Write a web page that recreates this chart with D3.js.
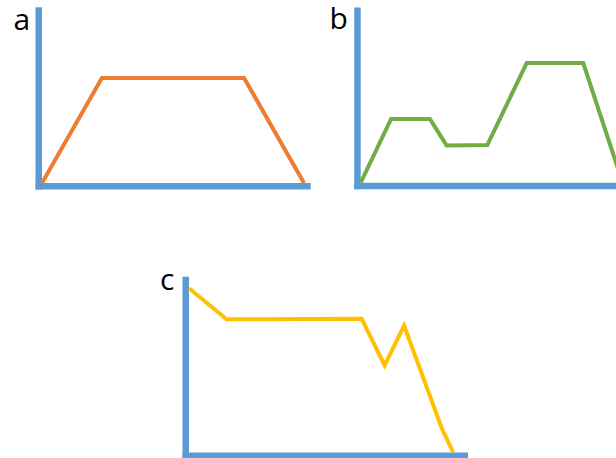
<!DOCTYPE html>
<html>
<head>
<meta charset="utf-8">
<script src="https://cdn.jsdelivr.net/npm/d3@7"></script>
<style>
  html, body { margin: 0; padding: 0; background: #fff; overflow: hidden; }
  svg { display: block; }
</style>
</head>
<body>
<svg id="chart"></svg>
<script>
// panel a
const aX = [0, 22.3, 75.2, 97.5];
const aY = [0, 59.8, 59.8, 0];
// panel b
const bX = [0, 11.5, 26.2, 32.5, 47.9, 62.8, 84.2, 99.1];
const bY = [0, 36.4, 36.4, 21.3, 21.5, 68.3, 68.3, 0];
// panel c
const cX = [0, 13.5, 61.9, 70.1, 77.1, 90.6, 94.7];
const cY = [93.4, 75.8, 76.1, 49.5, 72.2, 13.8, 0];

const labels = ["a", "b", "c"];

const W = 616, H = 458;
const axisColor = "#5B9BD5";
const axisWidth = 6.5;

const svg = d3.select("#chart")
    .attr("width", W)
    .attr("height", H);

// layout: inner corner of the axes, extents, label spot
const panels = [
    {xs: aX, ys: aY, color: "#ED7D31", x0: 42, x1: 310.7, y0: 183, y1: 7.3, lx: 13.5, ly: 30},
    {xs: bX, ys: bY, color: "#70AD47", x0: 360.7, x1: 625, y0: 182.7, y1: 7.5, lx: 329.5, ly: 28.8},
    {xs: cX, ys: cY, color: "#FFC000", x0: 189, x1: 468, y0: 452.5, y1: 276.7, lx: 160, ly: 290}
];

panels.forEach((p, i) => {
    const x = d3.scaleLinear().domain([0, 100]).range([p.x0, p.x1]);
    const y = d3.scaleLinear().domain([0, 100]).range([p.y0, p.y1]);
    const g = svg.append("g");

    // axes (plain thick lines, no ticks)
    g.append("line")
        .attr("x1", x(0) - axisWidth / 2)
        .attr("x2", x(0) - axisWidth / 2)
        .attr("y1", y(0) + axisWidth)
        .attr("y2", y(100))
        .attr("stroke", axisColor)
        .attr("stroke-width", axisWidth);
    g.append("line")
        .attr("x1", x(0) - axisWidth)
        .attr("x2", x(100))
        .attr("y1", y(0) + axisWidth / 2)
        .attr("y2", y(0) + axisWidth / 2)
        .attr("stroke", axisColor)
        .attr("stroke-width", axisWidth);

    const pts = p.xs.map((v, j) => [v, p.ys[j]]);
    const line = d3.line()
        .x(d => x(d[0]))
        .y(d => y(d[1]));

    g.append("path")
        .datum(pts)
        .attr("d", line)
        .attr("fill", "none")
        .attr("stroke", p.color)
        .attr("stroke-width", 4)
        .attr("stroke-linejoin", "miter");

    g.append("text")
        .attr("x", p.lx)
        .attr("y", p.ly)
        .attr("font-family", "Open Sans, sans-serif")
        .attr("font-size", "30px")
        .attr("fill", "#000")
        .text(labels[i]);
});
</script>
</body>
</html>
